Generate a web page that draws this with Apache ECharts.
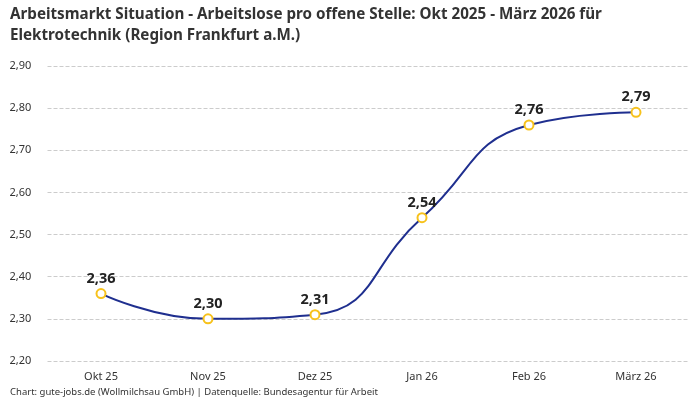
<!DOCTYPE html>
<html><head><meta charset="utf-8">
<script src="https://cdn.jsdelivr.net/npm/echarts@6/dist/echarts.min.js"></script>
<style>html,body{margin:0;padding:0;background:#fff}#c{width:700px;height:400px}</style>
</head><body><div id="c"></div>
<script>
const categories = ["Okt 25", "Nov 25", "Dez 25", "Jan 26", "Feb 26", "März 26"];
const values = [2.36, 2.30, 2.31, 2.54, 2.76, 2.79];
const yTicks = [2.2, 2.3, 2.4, 2.5, 2.6, 2.7, 2.8, 2.9];
const fmt = v => v.toFixed(2).replace('.', ',');
const FONT = '"Noto Sans", sans-serif';
const chart = echarts.init(document.getElementById('c'));
chart.setOption({
  animation: false,
  textStyle: { fontFamily: FONT },
  title: {
    text: 'Arbeitsmarkt Situation - Arbeitslose pro offene Stelle: Okt 2025 - März 2026 für\nElektrotechnik (Region Frankfurt a.M.)',
    left: 5, top: -1,
    textStyle: { fontFamily: FONT, fontSize: 15.2, fontWeight: 'bold', color: '#333', lineHeight: 21 }
  },
  graphic: [{
    type: 'text', left: 10, top: 387,
    style: { text: 'Chart: gute-jobs.de (Wollmilchsau GmbH) | Datenquelle: Bundesagentur für Arbeit', fontFamily: FONT, fontSize: 9.5, fill: '#333' }
  }],
  grid: { left: 47.5, right: 10.5, top: 66, bottom: 39, containLabel: false },
  xAxis: {
    type: 'category', data: categories, boundaryGap: true,
    axisLine: { show: false }, axisTick: { show: false },
    axisLabel: { fontSize: 11, color: '#333', margin: 10 }
  },
  yAxis: {
    type: 'value', min: yTicks[0], max: yTicks[yTicks.length - 1], interval: 0.1,
    axisLabel: { formatter: v => fmt(v), fontSize: 11, color: '#333', align: 'left', margin: 38 },
    splitLine: { lineStyle: { type: 'dashed', color: '#ccc' } },
    axisLine: { show: false }, axisTick: { show: false }
  },
  series: [{
    type: 'line', data: values, smooth: 0.5,
    lineStyle: { color: '#1f2f8f', width: 2 },
    symbol: 'circle', symbolSize: 9,
    itemStyle: { color: '#fff', borderColor: '#f7c21c', borderWidth: 2 },
    label: { show: true, position: 'top', formatter: p => fmt(p.value), fontSize: 14.5, fontWeight: 'bold', color: '#222', distance: 2 }
  }]
});
</script></body></html>
